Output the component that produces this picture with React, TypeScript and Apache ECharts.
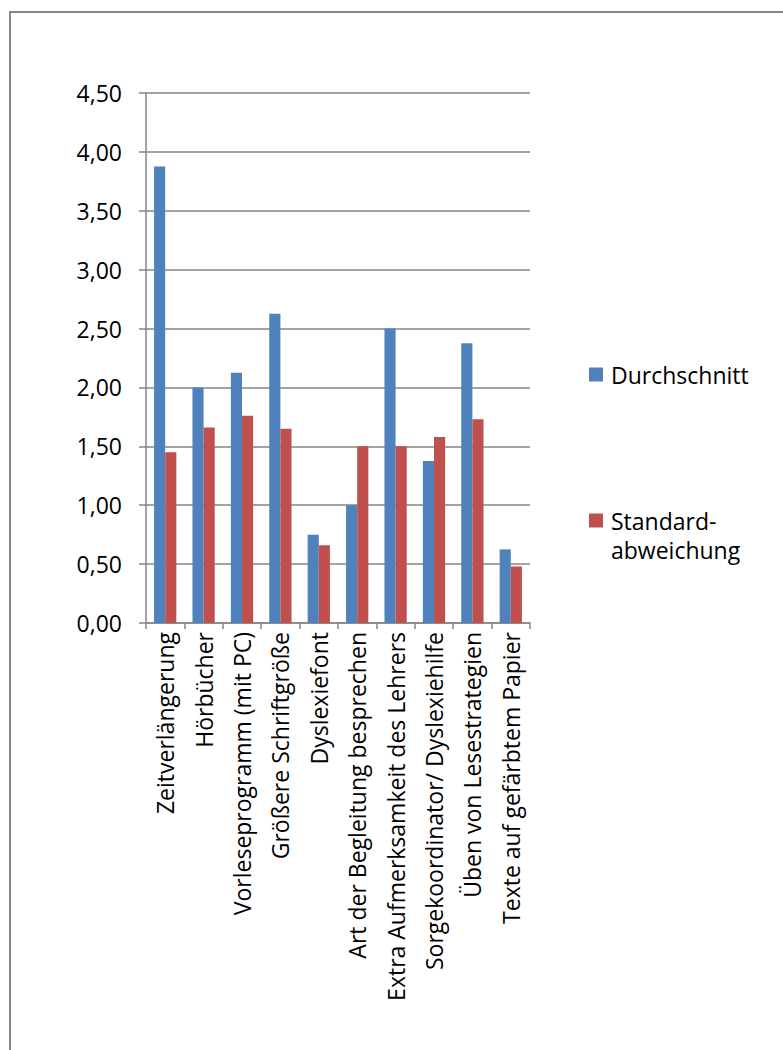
import React, { useEffect, useRef } from "react";
import * as echarts from "echarts";

const categories = [
  "Zeitverlängerung",
  "Hörbücher",
  "Vorleseprogramm (mit PC)",
  "Größere Schriftgröße",
  "Dyslexiefont",
  "Art der Begleitung besprechen",
  "Extra Aufmerksamkeit des Lehrers",
  "Sorgekoordinator/ Dyslexiehilfe",
  "Üben von Lesestrategien",
  "Texte auf gefärbtem Papier",
];

const durchschnitt = [3.875, 2.0, 2.125, 2.625, 0.75, 1.0, 2.5, 1.375, 2.375, 0.625];
const standardabweichung = [1.45, 1.66, 1.76, 1.65, 0.66, 1.5, 1.5, 1.58, 1.73, 0.48];

const FONT = "'Open Sans', sans-serif";
const AXIS_GREY = "#868686";

export default function App() {
  const ref = useRef<HTMLDivElement>(null);

  useEffect(() => {
    if (!ref.current) return;
    const chart = echarts.init(ref.current, undefined, { renderer: "svg" });
    const legendText = {
      fontFamily: FONT,
      fontSize: 23,
      color: "#000",
      padding: [0, 0, 0, 3],
    };
    chart.setOption({
      animation: false,
      backgroundColor: "#ffffff",
      textStyle: { fontFamily: FONT },
      grid: { left: 146, right: 253, top: 93, bottom: 427 },
      legend: [
        {
          data: ["Durchschnitt"],
          orient: "vertical",
          left: 589,
          top: 363,
          padding: 0,
          itemWidth: 14,
          itemHeight: 14,
          itemGap: 0,
          icon: "rect",
          textStyle: legendText,
        },
        {
          data: ["Standardabweichung"],
          orient: "vertical",
          left: 589,
          top: 509,
          padding: 0,
          itemWidth: 14,
          itemHeight: 14,
          itemGap: 0,
          icon: "rect",
          formatter: () => "Standard-",
          textStyle: legendText,
        },
      ],
      graphic: [
        {
          type: "rect",
          silent: true,
          shape: { x: 10, y: 12, width: 900, height: 1200 },
          style: { fill: "none", stroke: AXIS_GREY, lineWidth: 2 },
        },
        {
          type: "text",
          silent: true,
          x: 611,
          y: 550,
          style: {
            text: "abweichung",
            font: `23px ${FONT}`,
            fill: "#000",
            verticalAlign: "middle",
            align: "left",
          },
        },
      ],
      xAxis: {
        type: "category",
        data: categories,
        axisLine: { lineStyle: { color: AXIS_GREY, width: 1.5 } },
        axisTick: {
          show: true,
          length: 6,
          interval: 0,
          alignWithLabel: false,
          lineStyle: { color: AXIS_GREY, width: 1.5 },
        },
        axisLabel: {
          interval: 0,
          rotate: 90,
          margin: 9,
          fontFamily: FONT,
          fontSize: 23,
          color: "#000",
        },
      },
      yAxis: {
        type: "value",
        min: 0,
        max: 4.5,
        interval: 0.5,
        axisLine: { show: true, lineStyle: { color: AXIS_GREY, width: 1.5 } },
        axisTick: { show: true, length: 7, lineStyle: { color: AXIS_GREY, width: 1.5 } },
        splitLine: { show: true, lineStyle: { color: AXIS_GREY, width: 1.5 } },
        axisLabel: {
          margin: 24,
          fontFamily: FONT,
          fontSize: 23,
          color: "#000",
          formatter: (v: number) => v.toFixed(2).replace(".", ","),
        },
      },
      series: [
        {
          name: "Durchschnitt",
          type: "bar",
          data: durchschnitt,
          barGap: "0%",
          barCategoryGap: "42%",
          itemStyle: { color: "#4F81BD" },
        },
        {
          name: "Standardabweichung",
          type: "bar",
          data: standardabweichung,
          barGap: "0%",
          barCategoryGap: "42%",
          itemStyle: { color: "#C0504D" },
        },
      ],
    });
    return () => chart.dispose();
  }, []);

  return (
    <div
      ref={ref}
      style={{ position: "absolute", left: 0, top: 0, width: 783, height: 1050 }}
    />
  );
}
